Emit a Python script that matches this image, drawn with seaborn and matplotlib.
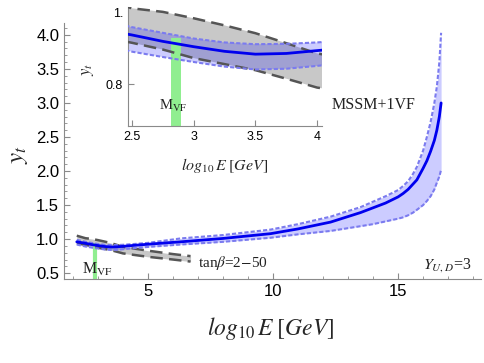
import numpy as np
import matplotlib
matplotlib.use("Agg")
import matplotlib.pyplot as plt
from matplotlib.ticker import MultipleLocator, FixedLocator, FixedFormatter
import seaborn as sns

# ----------------------------
# Data
# ----------------------------
# running top Yukawa, MSSM + 1 VF, Y_{U,D}=3
e_blue = [2.15, 2.5, 2.75, 3.0, 3.25, 3.5, 3.75, 4.0, 4.5, 5.0, 6.3, 8.0, 9.9, 11.0, 12.3,
          13.5, 14.0, 14.5, 15.0, 15.2, 15.4, 15.6, 15.75, 16.0, 16.15, 16.3, 16.45,
          16.55, 16.65, 16.72]
yt_mid = [0.96, 0.938, 0.92, 0.905, 0.892, 0.884, 0.886, 0.894, 0.91, 0.925, 0.96, 1.01,
          1.08, 1.15, 1.25, 1.39, 1.46, 1.53, 1.62, 1.67, 1.73, 1.81, 1.87, 2.04, 2.15,
          2.29, 2.45, 2.6, 2.8, 3.0]
yt_hi = [0.99, 0.960, 0.944, 0.928, 0.917, 0.912, 0.913, 0.917, 0.93, 0.945, 1.01, 1.06,
         1.14, 1.22, 1.33, 1.47, 1.55, 1.63, 1.72, 1.78, 1.85, 1.96, 2.06, 2.3, 2.5,
         2.72, 3.0, 3.24, 3.6, 4.03]
yt_lo = [0.92, 0.891, 0.876, 0.862, 0.849, 0.841, 0.843, 0.851, 0.87, 0.885, 0.92, 0.96,
         1.02, 1.07, 1.12, 1.19, 1.22, 1.26, 1.30, 1.32, 1.35, 1.39, 1.43, 1.5, 1.56,
         1.63, 1.73, 1.83, 1.92, 2.02]

# SM-like band, tan(beta) = 2-50
e_gray = [2.15, 2.5, 2.75, 3.0, 3.25, 3.5, 3.75, 4.0, 5.0, 6.0, 6.7]
gray_hi = [1.05, 1.013, 1.003, 0.985, 0.965, 0.943, 0.915, 0.886, 0.83, 0.78, 0.75]
gray_lo = [0.94, 0.916, 0.897, 0.873, 0.856, 0.839, 0.815, 0.79, 0.74, 0.70, 0.67]

# vector-like fermion mass scale
mvf = [2.82, 2.90]
mvf_top = 0.93

# ----------------------------
# Style
# ----------------------------
sns.set_style("ticks")
plt.rcParams['font.family'] = ['Liberation Sans', 'DejaVu Sans']
plt.rcParams['mathtext.fontset'] = 'stix'

BLUE = '#0000ee'
BAND = '#0000ff'
EDGE = '#7b7bef'
GRAY = '#555555'
SPINE = '#8a8a8a'
serif = ['Liberation Serif', 'DejaVu Serif']


def draw_bands(ax):
    ax.fill_between(e_gray, gray_lo, gray_hi, color='#c8c8c8', lw=0, zorder=1)
    ax.fill_between(e_blue, yt_lo, yt_hi, color=BAND, alpha=0.2, lw=0, zorder=2)
    for y in (gray_hi, gray_lo):
        sns.lineplot(x=e_gray, y=y, ax=ax, color=GRAY, lw=1.8, sort=False,
                     linestyle=(0, (5, 2.5)), zorder=3)
    for y in (yt_hi, yt_lo):
        sns.lineplot(x=e_blue, y=y, ax=ax, color=EDGE, lw=1.5, sort=False,
                     linestyle=(0, (2, 1)), zorder=4)
    sns.lineplot(x=e_blue, y=yt_mid, ax=ax, color=BLUE, lw=2.0, sort=False, zorder=5)


def style_axes(ax, labelsize):
    for s in ('top', 'right'):
        ax.spines[s].set_visible(False)
    for s in ('left', 'bottom'):
        ax.spines[s].set_color(SPINE)
        ax.spines[s].set_linewidth(0.8)
    ax.tick_params(which='both', direction='in', color=SPINE, labelsize=labelsize,
                   labelcolor='black')
    ax.tick_params(which='major', length=4, width=0.8)
    ax.tick_params(which='minor', length=2, width=0.6)
    ax.set_xlabel('')
    ax.set_ylabel('')


fig = plt.figure(figsize=(4.85, 3.63), dpi=100)

# ----------------------------
# Main panel
# ----------------------------
ax = fig.add_axes([0.132, 0.231, 0.860, 0.706])
draw_bands(ax)
ax.set_xlim(1.64, 18.32)
ax.set_ylim(0.412, 4.176)
ax.vlines(np.mean(mvf), 0.412, mvf_top + 0.01, color='#90ee90', lw=3, zorder=2.5)
ax.xaxis.set_major_locator(FixedLocator([5, 10, 15]))
ax.xaxis.set_minor_locator(MultipleLocator(1))
ax.yaxis.set_major_locator(FixedLocator([0.5, 1.0, 1.5, 2.0, 2.5, 3.0, 3.5, 4.0]))
ax.yaxis.set_major_formatter(FixedFormatter(['0.5', '1.0', '1.5', '2.0', '2.5', '3.0', '3.5', '4.0']))
ax.yaxis.set_minor_locator(MultipleLocator(0.1))
style_axes(ax, 12)

ax.text(2.35, 0.495, r'M$_{\mathrm{VF}}$', fontsize=11.5, family=serif, color='#222222')
ax.text(7.0, 0.59, r'tan$\beta$=2$-$50', fontsize=11, family=serif, color='#222222')
ax.text(16.0, 0.57, r'$Y_{U,D}$=3', fontsize=11.5, family=serif, color='#222222')
ax.text(12.35, 2.91, 'MSSM+1VF', fontsize=11.5, family=serif, color='#222222')

fig.text(0.559, 0.096, r'$log_{10}\,E\;[GeV]$', fontsize=17, ha='center', va='center')
fig.text(0.037, 0.575, r'$y_t$', fontsize=18, ha='center', va='center', rotation=90)

# ----------------------------
# Inset zoom on the VF threshold
# ----------------------------
ins = fig.add_axes([0.264, 0.653, 0.400, 0.328])
ins.patch.set_facecolor('white')
draw_bands(ins)
ins.set_xlim(2.468, 4.04)
ins.set_ylim(0.682, 1.017)
ins.fill_betweenx([0.682, mvf_top], mvf[0], mvf[1], color='#90ee90', lw=0, zorder=2.5)
ins.xaxis.set_major_locator(FixedLocator([2.5, 3.0, 3.5, 4.0]))
ins.xaxis.set_major_formatter(FixedFormatter(['2.5', '3', '3.5', '4']))
ins.yaxis.set_major_locator(FixedLocator([0.8, 1.0]))
ins.yaxis.set_major_formatter(FixedFormatter(['0.8', '1.']))
style_axes(ins, 9)
ins.text(2.72, 0.727, r'M$_{\mathrm{VF}}$', fontsize=10.5, family=serif, color='#222222')

fig.text(0.462, 0.545, r'$log_{10}\,E\;[GeV]$', fontsize=11.5, ha='center', va='center')
fig.text(0.181, 0.81, r'$y_t$', fontsize=12, ha='center', va='center', rotation=90)

fig.savefig('out.png', dpi=100)
